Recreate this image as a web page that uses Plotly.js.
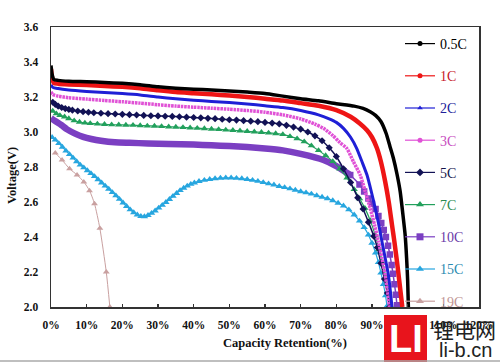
<!DOCTYPE html>
<html><head><meta charset="utf-8">
<script src="https://cdn.plot.ly/plotly-3.0.1.min.js"></script>
<style>html,body{margin:0;padding:0;background:#fff}#chart{width:500px;height:362px}</style>
</head><body><div id="chart"></div>
<script>
// ---------------- data ----------------
const seriesNames = ['0.5C','1C','2C','3C','5C','7C','10C','15C','19C'];

const x05 = [0,0.003,0.008,0.02,0.05,0.10,0.15,0.20,0.25,0.30,0.35,0.40,0.45,0.50,0.55,0.60,0.65,0.70,0.75,0.80,0.85,0.875,0.895,0.91,0.925,0.94,0.95,0.96,0.97,0.979,0.986,0.993,0.997,1.0,1.002];
const v05 = [3.38,3.33,3.30,3.295,3.29,3.287,3.283,3.278,3.27,3.258,3.25,3.245,3.24,3.235,3.228,3.22,3.205,3.19,3.178,3.162,3.148,3.135,3.116,3.095,3.06,2.99,2.92,2.85,2.76,2.66,2.54,2.41,2.28,2.15,2.0];

const x1 = [0,0.003,0.008,0.02,0.05,0.10,0.15,0.20,0.25,0.30,0.35,0.40,0.45,0.50,0.55,0.60,0.65,0.70,0.75,0.80,0.84,0.865,0.886,0.90,0.914,0.925,0.937,0.947,0.956,0.963,0.970,0.977,0.985];
const v1 = [3.36,3.31,3.28,3.276,3.272,3.268,3.263,3.258,3.25,3.238,3.228,3.222,3.216,3.208,3.2,3.19,3.18,3.165,3.15,3.125,3.087,3.05,3.01,2.97,2.907,2.83,2.716,2.6,2.47,2.37,2.26,2.14,2.0];

const x2 = [0,0.005,0.02,0.05,0.10,0.15,0.20,0.25,0.30,0.35,0.40,0.45,0.50,0.55,0.60,0.65,0.70,0.75,0.78,0.80,0.82,0.84,0.857,0.872,0.886,0.898,0.909,0.919,0.928,0.937,0.946,0.951,0.956];
const v2 = [3.27,3.255,3.248,3.24,3.232,3.226,3.22,3.212,3.2,3.19,3.182,3.175,3.168,3.16,3.15,3.14,3.123,3.098,3.075,3.055,3.021,2.97,2.907,2.83,2.754,2.66,2.564,2.47,2.373,2.28,2.183,2.1,2.0];

const x3 = [0,0.005,0.02,0.05,0.10,0.15,0.20,0.25,0.30,0.35,0.40,0.45,0.50,0.55,0.60,0.65,0.70,0.74,0.764,0.79,0.81,0.829,0.848,0.867,0.881,0.895,0.907,0.918,0.928,0.937,0.943,0.949];
const v3 = [3.23,3.215,3.205,3.196,3.188,3.18,3.173,3.165,3.156,3.148,3.142,3.136,3.13,3.123,3.113,3.098,3.075,3.045,3.021,2.98,2.94,2.907,2.83,2.754,2.66,2.564,2.47,2.373,2.28,2.183,2.1,2.0];

const x5 = [0.005,0.012,0.02,0.03,0.04,0.05,0.06,0.075,0.09,0.105,0.12,0.14,0.16,0.18,0.20,0.22,0.24,0.26,0.28,0.30,0.32,0.34,0.36,0.38,0.40,0.42,0.44,0.46,0.48,0.50,0.52,0.54,0.56,0.58,0.60,0.62,0.64,0.66,0.68,0.70,0.72,0.74,0.76,0.78,0.80,0.82,0.84,0.86,0.875,0.89,0.905,0.915,0.925,0.935,0.943,0.949];
const v5 = [3.170,3.158,3.148,3.140,3.134,3.129,3.125,3.120,3.116,3.113,3.110,3.107,3.105,3.103,3.101,3.099,3.097,3.095,3.093,3.092,3.090,3.089,3.087,3.085,3.083,3.081,3.078,3.076,3.073,3.070,3.068,3.065,3.062,3.059,3.055,3.051,3.046,3.038,3.028,3.016,3.000,2.978,2.950,2.910,2.860,2.790,2.712,2.625,2.560,2.485,2.405,2.340,2.250,2.160,2.080,2.000];

const x7 = [0.005,0.015,0.025,0.038,0.05,0.065,0.08,0.095,0.11,0.13,0.15,0.17,0.19,0.21,0.23,0.25,0.27,0.29,0.31,0.33,0.35,0.37,0.39,0.41,0.43,0.45,0.47,0.49,0.51,0.53,0.55,0.57,0.59,0.61,0.63,0.65,0.67,0.69,0.71,0.73,0.75,0.77,0.79,0.81,0.83,0.85,0.865,0.88,0.895,0.909,0.92,0.93,0.939,0.947,0.954];
const v7 = [3.120,3.105,3.095,3.087,3.077,3.065,3.057,3.052,3.049,3.046,3.044,3.042,3.041,3.040,3.039,3.037,3.035,3.034,3.032,3.030,3.028,3.026,3.024,3.022,3.020,3.017,3.015,3.012,3.010,3.007,3.004,3.001,2.998,2.995,2.991,2.986,2.975,2.962,2.945,2.922,2.895,2.865,2.832,2.790,2.738,2.672,2.620,2.565,2.495,2.411,2.330,2.250,2.170,2.090,2.000];

const x10 = [0,0.01,0.029,0.045,0.066,0.09,0.113,0.14,0.179,0.22,0.272,0.33,0.40,0.45,0.50,0.55,0.60,0.65,0.70,0.764,0.80,0.839,0.865,0.878,0.89,0.90,0.91,0.918,0.926,0.933,0.939,0.945,0.950,0.955,0.959,0.963,0.967,0.970];
const v10 = [3.08,3.065,3.04,3.015,2.992,2.972,2.96,2.95,2.941,2.938,2.935,2.932,2.928,2.924,2.92,2.914,2.906,2.895,2.875,2.84,2.805,2.754,2.70,2.66,2.62,2.59,2.56,2.52,2.48,2.44,2.40,2.35,2.30,2.24,2.19,2.13,2.07,2.01];

const x15 = [0.003,0.012,0.022,0.032,0.042,0.052,0.062,0.072,0.082,0.092,0.102,0.112,0.122,0.132,0.142,0.152,0.162,0.172,0.182,0.192,0.202,0.212,0.222,0.232,0.242,0.252,0.262,0.272,0.282,0.292,0.302,0.312,0.322,0.332,0.342,0.352,0.362,0.372,0.382,0.392,0.402,0.415,0.43,0.445,0.46,0.475,0.49,0.505,0.52,0.535,0.55,0.565,0.58,0.595,0.61,0.625,0.64,0.655,0.67,0.685,0.70,0.715,0.73,0.745,0.76,0.775,0.79,0.805,0.82,0.835,0.85,0.865,0.878,0.89,0.90,0.91,0.918,0.925,0.932,0.938,0.942];
const v15 = [2.970,2.955,2.935,2.914,2.892,2.872,2.852,2.831,2.812,2.796,2.780,2.763,2.746,2.728,2.710,2.692,2.674,2.655,2.636,2.616,2.595,2.575,2.556,2.540,2.527,2.518,2.517,2.524,2.536,2.550,2.566,2.582,2.598,2.615,2.633,2.650,2.666,2.680,2.692,2.702,2.710,2.718,2.725,2.730,2.734,2.737,2.738,2.738,2.736,2.734,2.730,2.725,2.719,2.712,2.705,2.698,2.690,2.683,2.676,2.668,2.660,2.653,2.646,2.637,2.628,2.620,2.608,2.594,2.578,2.556,2.527,2.492,2.455,2.412,2.365,2.310,2.255,2.195,2.130,2.065,2.005];

const x19 = [0.012,0.031,0.052,0.073,0.092,0.108,0.122,0.137,0.155,0.165];
const v19 = [2.88,2.84,2.79,2.755,2.715,2.665,2.59,2.45,2.20,2.0];

const xTickVals = [0,0.1,0.2,0.3,0.4,0.5,0.6,0.7,0.8,0.9,1.0,1.1,1.2];
const xTickText = ['0%','10%','20%','30%','40%','50%','60%','70%','80%','90%','100%','110%','120%'];
const yTickVals = [2.0,2.2,2.4,2.6,2.8,3.0,3.2,3.4,3.6];
const yTickText = ['2.0','2.2','2.4','2.6','2.8','3.0','3.2','3.4','3.6'];

// ---------------- styling ----------------
const L=51,R=479,T=27,B=307;
const px=(x)=>(x-L)/(R-L);
const py=(y)=>(B-y)/(B-T);

const traces = [];
function add(x,y,color,width,mode,sym,size,dash){
  traces.push({x:x,y:y,type:'scatter',mode:mode,showlegend:false,hoverinfo:'skip',
    line:{color:color,width:width,shape:'spline',smoothing:0.6,dash:dash||'solid'},
    marker:{color:color,symbol:sym,size:size,line:{width:0}}});
}
function split(x,y,thr){
  let i=y.findIndex(v=>v<thr); if(i<1) i=y.length;
  return [x.slice(0,i),y.slice(0,i),x.slice(i-1),y.slice(i-1)];
}
add(x19,v19,'#c9a0a0',1,'lines+markers','triangle-up',6);
add(x15,v15,'#27a6df',1.2,'lines+markers','triangle-up',6.5);
{const s=split(x10,v10,2.72);
 add(s[0],s[1],'#7b3fc2',6.5,'lines','square',0);
 add(s[2],s[3],'#7b3fc2',1.5,'lines+markers','square',6.5);}
add(x7,v7,'#22a05c',1.2,'lines+markers','triangle-up',6.5);
add(x5,v5,'#121255',1.5,'lines+markers','diamond',5.5);
add(x3,v3,'#e052d6',3.5,'lines','circle',0,'2.5px,0.8px');
add(x2,v2,'#1f1fd6',3,'lines','circle',0);
add(x1,v1,'#ee1515',4.5,'lines','circle',0);
add(x05,v05,'#000000',3.5,'lines','circle',0);

const legendStyle = [
  ['#000000','circle',5,'#000000'],
  ['#ee1515','circle',5,'#c8202a'],
  ['#1f1fd6','triangle-up',5,'#20209a'],
  ['#e052d6','circle',5,'#c84cc0'],
  ['#121255','diamond',6,'#14144a'],
  ['#22a05c','triangle-up',7,'#2a8a50'],
  ['#7b3fc2','square',7,'#6a3aa8'],
  ['#27a6df','triangle-up',7,'#2a8ab0'],
  ['#c9a0a0','triangle-up',7,'#c09494']
];
seriesNames.forEach((n,i)=>{
  const s=legendStyle[i];
  traces.push({x:[null],y:[null],type:'scatter',mode:'lines+markers',legendgroup:'g'+i,
    name:'<span style="color:'+s[3]+'">'+n+'</span>',
    line:{color:s[0],width:1.2},marker:{color:s[0],symbol:s[1],size:s[2]}});
});

const tickFont={family:'Liberation Serif',size:11.5,color:'#111',weight:'bold'};
const titleFont={family:'Liberation Serif',size:12.5,color:'#111',weight:'bold'};
const layout={
  width:500,height:362,margin:{l:L,r:500-R,t:T,b:362-B},
  paper_bgcolor:'#fff',plot_bgcolor:'#fff',showlegend:true,
  xaxis:{range:[0,1.2],tickvals:xTickVals,ticktext:xTickText,ticks:'inside',ticklen:3,tickwidth:1.2,tickcolor:'#333',
    showgrid:false,zeroline:false,showline:true,mirror:true,linecolor:'#333',linewidth:1.5,tickfont:tickFont,ticklabelstandoff:7,fixedrange:true},
  yaxis:{range:[2,3.6],tickvals:yTickVals,ticktext:yTickText,ticks:'',
    showgrid:false,zeroline:false,showline:true,mirror:true,linecolor:'#333',linewidth:1.5,tickfont:tickFont,ticklabelstandoff:9,fixedrange:true},
  legend:{x:px(400),y:py(28),xanchor:'left',yanchor:'top',bgcolor:'rgba(0,0,0,0)',
    font:{family:'Liberation Serif',size:14,color:'#000'},traceorder:'grouped',tracegroupgap:11,itemwidth:30},
  annotations:[
    {xref:'paper',yref:'paper',x:px(285),y:py(343),xanchor:'center',yanchor:'middle',text:'Capacity Retention(%)',showarrow:false,
      font:titleFont},
    {xref:'paper',yref:'paper',x:px(12),y:py(176),xanchor:'center',yanchor:'middle',text:'Voltage(V)',textangle:-90,showarrow:false,
      font:titleFont},
    {xref:'paper',yref:'paper',x:px(405.5),y:py(339),xanchor:'center',yanchor:'middle',text:'LI',showarrow:false,
      font:{family:'Liberation Sans',size:38,color:'#ffffff',weight:'bold'}},
    {xref:'paper',yref:'paper',x:px(464),y:py(329),xanchor:'center',yanchor:'middle',text:'锂电网',showarrow:false,
      font:{family:'Noto Sans CJK SC',size:21,color:'#222'}},
    {xref:'paper',yref:'paper',x:px(465),y:py(350),xanchor:'center',yanchor:'middle',text:'li-b.cn',showarrow:false,
      font:{family:'Liberation Sans',size:20,color:'#222'}}
  ],
  shapes:[
    {type:'rect',xref:'paper',yref:'paper',x0:px(384),x1:px(427),y0:py(315),y1:py(362),fillcolor:'#e8141c',line:{width:0},layer:'above'},
    {type:'line',xref:'paper',yref:'paper',x0:px(0),x1:px(500),y0:py(361),y1:py(361),line:{color:'#aaaaaa',width:1.5},layer:'above'}
  ]
};
Plotly.newPlot('chart',traces,layout,{displayModeBar:false,staticPlot:true});
</script></body></html>
